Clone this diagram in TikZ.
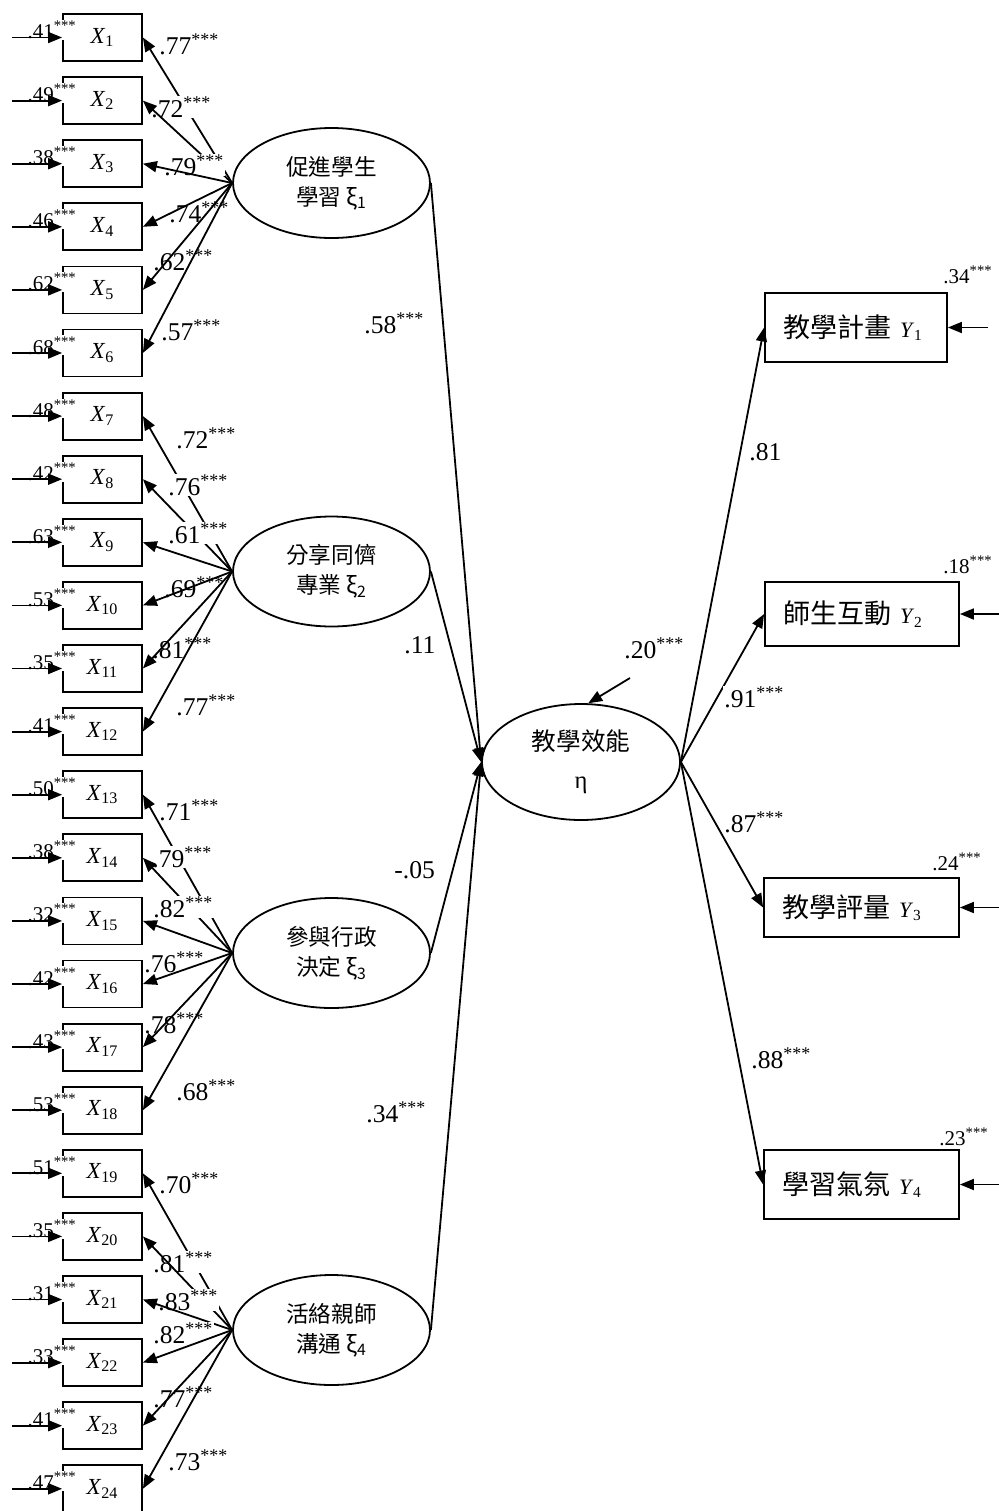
\documentclass[tikz,border=0pt]{standalone}
\usepackage{fontspec}
\setmainfont{Liberation Serif}
\newfontfamily\cjk{Noto Sans CJK TC}
\usetikzlibrary{arrows.meta,calc,positioning,shapes.geometric}
\newcommand{\sig}{\textsuperscript{***}}
\newcommand{\vname}[2]{\textit{#1}\textsubscript{#2}}
\newcommand{\yname}[1]{{\rmfamily\fontsize{11}{12}\selectfont\vname{Y}{#1}}}

\begin{document}
\begin{tikzpicture}[x=.5pt,y=-.5pt,
    obs/.style={draw,line width=.9pt,minimum width=39.5pt,minimum height=23.5pt,inner sep=0pt,font=\fontsize{11.5}{12}\selectfont},
    lat/.style={draw,ellipse,line width=.9pt,minimum width=98.5pt,minimum height=55pt,inner sep=0pt,align=center,font=\cjk\fontsize{11.3}{15}\selectfont},
    ind/.style={draw,line width=.9pt,inner xsep=9pt,inner ysep=0pt,align=left,font=\cjk\fontsize{13.5}{15}\selectfont},
    path/.style={line width=.9pt,-{Triangle[length=7pt,width=5.5pt]}},
    coef/.style={anchor=base west,inner sep=.5pt,fill=white,font=\fontsize{12.8}{14}\selectfont},
    err/.style={anchor=base west,inner sep=.5pt,fill=white,font=\fontsize{10.5}{11}\selectfont}]
  \useasboundingbox (0,0) rectangle (998,1511);
  % latent variables
  \node[lat] (xi1) at (331.5,183) {促進學生\\學習~ξ\textsubscript{1}};
  \node[lat] (xi2) at (331.5,571.5) {分享同儕\\專業~ξ\textsubscript{2}};
  \node[lat] (xi3) at (331.5,953) {參與行政\\決定~ξ\textsubscript{3}};
  \node[lat] (xi4) at (331.5,1330) {活絡親師\\溝通~ξ\textsubscript{4}};
  \node[lat,minimum width=99pt,minimum height=58pt,font=\cjk\fontsize{12.3}{19}\selectfont] (eta) at (581,762) {教學效能\\{\rmfamily η}};
  % indicators
  \foreach \i in {1,...,24}
    \node[obs] (x\i) at (102.5,{37.5+63.1*(\i-1)}) {\vname{X}{\i}};
  \node[ind,text width=73pt,minimum height=34.5pt] (y1) at (856,327.5) {教學計畫 \yname{1}};
  \node[ind,text width=79pt,minimum height=32pt] (y2) at (862,614) {師生互動 \yname{2}};
  \node[ind,text width=79.5pt,minimum height=29.5pt] (y3) at (861.5,907.5) {教學評量 \yname{3}};
  \node[ind,text width=79.5pt,minimum height=34.5pt] (y4) at (861.5,1184.5) {學習氣氛 \yname{4}};
  % error terms
  \foreach \v [count=\i] in {.41,.49,.38,.46,.62,.68,.48,.42,.63,.53,.35,.41,
                             .50,.38,.32,.42,.43,.53,.51,.35,.31,.33,.41,.47}{
    \node[err] (ex\i) at ($(x\i.west)+(-36,1)$) {\v\sig};
    \coordinate (e\i) at ($(x\i.west)+(-50,0)$);
    \draw[path] (e\i) -- (x\i.west);}
  \foreach \i in {1,...,4}{
    \coordinate (f\i) at ($(y\i.east)+(40,0)$);
    \draw[path] (f\i) -- (y\i.east);}
  \node[err] (ey1) at (942,283) {.34\sig};
  \node[err] (ey2) at (942,573) {.18\sig};
  \node[err] (ey3) at (931,870) {.24\sig};
  \node[err] (ey4) at (938,1145) {.23\sig};
  \coordinate (d) at (630,678);
  \draw[path] (d) -- (eta.83);
  % loadings, each label under its own path
  \foreach \v/\px/\py [count=\i] in {.77/158/54,.72/150/117,.79/163/175,.74/168/222,.62/152/270,.57/160/340,
    .72/175/448,.76/167/495,.61/167/543,.69/163/597,.81/151/658,.77/175/715,
    .71/158/820,.79/151/867,.82/152/917,.76/143/972,.78/143/1033,.68/175/1100,
    .70/158/1193,.81/152/1272,.83/157/1310,.82/152/1343,.77/152/1407,.73/167/1470}{
    \pgfmathtruncatemacro{\g}{(\i-1)/6+1}
    \node[coef] (l\i) at (\px,\py) {\v\sig};
    \draw[path] (xi\g.west) -- (x\i.east);}
  \foreach \i in {1,...,4}{
    \draw[path] (xi\i.east) -- (eta.west);
    \draw[path] (eta.east) -- (y\i.west);}
  % structural coefficients
  \node[coef] (g1) at (363,333) {.58\sig};
  \node[coef] (g2) at (403,653) {.11};
  \node[coef] (g3) at (393,878) {-.05};
  \node[coef] (g4) at (365,1122) {.34\sig};
  \node[coef] (z) at (623,658) {.20\sig};
  \node[coef] (b1) at (748,460) {.81};
  \node[coef] (b2) at (723,707) {.91\sig};
  \node[coef] (b3) at (723,832) {.87\sig};
  \node[coef] (b4) at (750,1068) {.88\sig};
\end{tikzpicture}
\end{document}
